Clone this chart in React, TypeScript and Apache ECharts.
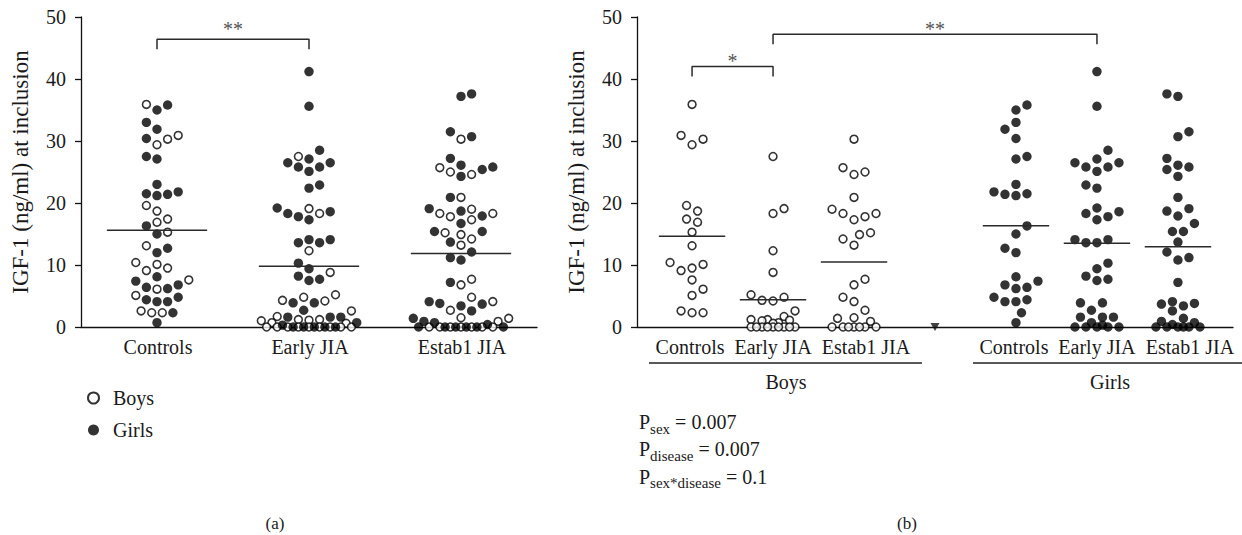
import React, { useEffect, useRef } from "react";
import * as echarts from "echarts";

// ---------- data ----------
const groups = ["Controls", "Early JIA", "Estab1 JIA"];
const sexes = ["Boys", "Girls"];
const yTicks = { min: 0, max: 50, interval: 10 };

const boysControls = [35.9, 30.9, 30.3, 29.4, 19.6, 18.7, 17.4, 16.9, 15.3, 13.1, 10.4, 10.1, 9.5, 9.1, 7.6, 6.1, 5.1, 2.6, 2.3, 2.3];
const boysEarly = [27.5, 19.1, 18.3, 12.3, 8.8, 5.2, 4.8, 4.3, 4.2, 2.6, 1.7, 1.2, 1.2, 1.1, 1.0, 0.7, 0.6, 0, 0, 0, 0, 0, 0, 0, 0, 0];
const boysEstab = [30.3, 25.7, 25.0, 24.6, 20.9, 19.0, 18.3, 18.3, 17.8, 17.3, 15.2, 14.9, 14.2, 13.2, 7.7, 6.8, 4.8, 4.1, 2.7, 1.5, 1.4, 0.9, 0, 0, 0, 0, 0, 0, 0];
const girlsControls = [35.8, 35.0, 33.0, 31.9, 30.4, 27.5, 27.1, 23.0, 21.8, 21.5, 21.4, 21.2, 16.3, 15.0, 12.7, 12.0, 8.1, 7.4, 6.8, 6.4, 6.2, 4.8, 4.4, 4.1, 4.1, 2.3, 0.7];
const girlsEarly = [41.2, 35.6, 28.5, 27.1, 26.5, 26.5, 25.8, 25.8, 25.1, 22.9, 22.4, 19.2, 18.6, 18.3, 17.8, 17.3, 14.1, 14.1, 13.6, 13.6, 10.3, 9.4, 8.2, 7.7, 7.5, 3.9, 3.9, 2.7, 1.6, 1.6, 1.6, 0.7, 0.3, 0, 0, 0, 0, 0];
const girlsEstab = [37.6, 37.2, 31.5, 30.7, 27.2, 26.1, 25.8, 25.4, 24.3, 20.9, 19.1, 18.7, 17.9, 16.7, 15.4, 15.4, 13.7, 12.1, 11.2, 10.8, 7.2, 4.1, 3.8, 3.7, 3.4, 2.6, 1.4, 0.9, 0.7, 0.4, 0, 0, 0, 0, 0, 0];

const boys = [boysControls, boysEarly, boysEstab];
const girls = [girlsControls, girlsEarly, girlsEstab];

// significance brackets: [fromGroup, toGroup, level, drop level, label]
const sigA: [number, number, number, number, string][] = [[0, 1, 46.4, 44.8, "**"]];
// panel b slots: 0..2 boys groups, 3..5 girls groups
const sigB: [number, number, number, number, string][] = [
  [0, 1, 42.0, 40.4, "*"],
  [1, 4, 47.2, 45.6, "**"],
];
const pStats: [string, string][] = [
  ["sex", "0.007"],
  ["disease", "0.007"],
  ["sex*disease", "0.1"],
];
const panelTags = ["(a)", "(b)"];

// ---------- layout constants ----------
const FONT = '"Liberation Serif", "DejaVu Serif", serif';
const INK = "#1a1a1a";
const GA = { left: 81, top: 17, width: 456, height: 310, xMin: 0, xMax: 3 };
const GB = { left: 637, top: 17, width: 596, height: 310, xMin: 0.32, xMax: 7.68 };
const catA = [0.5, 1.5, 2.5];
const catB = [1, 2, 3, 5, 6, 7];
const gapB = 4;
const pxPerY = GA.height / (yTicks.max - yTicks.min);
const pxPerXA = GA.width / (GA.xMax - GA.xMin);
const pxPerXB = GB.width / (GB.xMax - GB.xMin);

function swarm(vals: number[], step: number, D: number, maxK: number): number[] {
  const idx = vals.map((_, i) => i).sort((a, b) => vals[a] - vals[b]);
  const placed: { x: number; y: number }[] = [];
  const out = new Array(vals.length).fill(0);
  const order: number[] = [0];
  for (let k = 1; k <= maxK; k++) order.push(k, -k);
  let flip = 1;
  for (const i of idx) {
    const y = vals[i] * pxPerY;
    let bestX = 0;
    let bestD = -1;
    let chosen: number | null = null;
    for (const k0 of order) {
      const x = k0 * flip * step;
      let m = Infinity;
      for (const p of placed) {
        const d = Math.hypot(p.x - x, p.y - y);
        if (d < m) m = d;
      }
      if (m >= D) {
        chosen = x;
        break;
      }
      if (m > bestD + 0.01) {
        bestD = m;
        bestX = x;
      }
    }
    const x = chosen !== null ? chosen : bestX;
    if (x !== 0) flip = -flip;
    placed.push({ x, y });
    out[i] = x;
  }
  return out;
}

function mean(a: number[]) {
  return a.reduce((s, v) => s + v, 0) / a.length;
}

function buildOption() {
  const boysA: number[][] = [];
  const girlsA: number[][] = [];
  const boysB: number[][] = [];
  const girlsB: number[][] = [];
  const series: any[] = [];
  const lineStyle = { color: "#2a2a2a", width: 1.5 };

  const addLine = (xi: number, pts: number[][]) =>
    series.push({
      type: "line",
      xAxisIndex: xi,
      yAxisIndex: xi,
      data: pts,
      showSymbol: false,
      symbol: "none",
      silent: true,
      lineStyle,
      z: 4,
      animation: false,
    });

  // panel a (combined sexes)
  groups.forEach((g, gi) => {
    const vals = [...boys[gi], ...girls[gi]];
    const off = swarm(vals, 5.3, 10.5, 9);
    vals.forEach((v, i) => {
      const pt = [catA[gi] + off[i] / pxPerXA, v];
      (i < boys[gi].length ? boysA : girlsA).push(pt);
    });
    const m = mean(vals);
    addLine(0, [
      [catA[gi] - 0.33, m],
      [catA[gi] + 0.33, m],
    ]);
  });

  // panel b (split by sex)
  [boys, girls].forEach((set, si) => {
    set.forEach((vals, gi) => {
      const cx = catB[si * 3 + gi];
      const off = swarm(vals, 5.5, 11, 4);
      vals.forEach((v, i) => (si === 0 ? boysB : girlsB).push([cx + off[i] / pxPerXB, v]));
      const m = mean(vals);
      addLine(1, [
        [cx - 0.41, m],
        [cx + 0.41, m],
      ]);
    });
  });

  const openStyle = { color: "#fff", borderColor: "#000", borderWidth: 1.6 };
  const fillStyle = { color: "#000", borderColor: "#000", borderWidth: 0 };
  const pts = (name: string, xi: number, data: number[][], open: boolean) => ({
    name,
    type: "scatter",
    xAxisIndex: xi,
    yAxisIndex: xi,
    data,
    symbol: "circle",
    symbolSize: open ? 7.8 : 9.4,
    itemStyle: open ? openStyle : fillStyle,
    clip: false,
    z: 3,
  });
  series.push(pts(sexes[0], 0, boysA, true));
  series.push(pts(sexes[1], 0, girlsA, false));
  series.push(pts(sexes[0], 1, boysB, true));
  series.push(pts(sexes[1], 1, girlsB, false));

  // brackets
  sigA.forEach(([a, b, lv, dr]) =>
    addLine(0, [
      [catA[a], dr],
      [catA[a], lv],
      [catA[b], lv],
      [catA[b], dr],
    ])
  );
  sigB.forEach(([a, b, lv, dr]) =>
    addLine(1, [
      [catB[a], dr],
      [catB[a], lv],
      [catB[b], lv],
      [catB[b], dr],
    ])
  );

  // separator marker
  series.push({
    type: "scatter",
    xAxisIndex: 1,
    yAxisIndex: 1,
    data: [[gapB, 0]],
    symbol: "triangle",
    symbolRotate: 180,
    symbolSize: [9, 8],
    itemStyle: { color: "#111" },
    silent: true,
    clip: false,
    z: 5,
  });

  const yAxis = (g: any) => ({
    type: "value",
    gridIndex: g,
    min: yTicks.min,
    max: yTicks.max,
    interval: yTicks.interval,
    name: "IGF-1 (ng/ml) at inclusion",
    nameLocation: "middle",
    nameRotate: 90,
    nameGap: 49,
    nameTextStyle: { fontFamily: FONT, fontSize: 23, color: INK },
    axisLine: { show: true, onZero: false, lineStyle: { color: "#111", width: 1.3 } },
    axisTick: { show: true, inside: false, length: 6, lineStyle: { color: "#111", width: 1.3 } },
    axisLabel: { fontFamily: FONT, fontSize: 20, color: INK, margin: 15 },
    splitLine: { show: false },
  });
  const xAxis = (g: any, G: any) => ({
    type: "value",
    gridIndex: g,
    min: G.xMin,
    max: G.xMax,
    axisLine: { show: true, onZero: false, lineStyle: { color: "#111", width: 1.3 } },
    axisTick: { show: false },
    axisLabel: { show: false },
    splitLine: { show: false },
  });

  return {
    animation: false,
    backgroundColor: "#fff",
    grid: [
      { left: GA.left, top: GA.top, width: GA.width, height: GA.height },
      { left: GB.left, top: GB.top, width: GB.width, height: GB.height },
    ],
    xAxis: [xAxis(0, GA), xAxis(1, GB)],
    yAxis: [yAxis(0), yAxis(1)],
    legend: {
      data: sexes,
      orient: "vertical",
      left: 82,
      top: 383,
      itemWidth: 11,
      itemHeight: 11,
      itemGap: 12,
      selectedMode: false,
      textStyle: { fontFamily: FONT, fontSize: 20, color: INK, padding: [0, 0, 0, 9] },
    },
    series,
  };
}

function buildGraphic(chart: echarts.ECharts) {
  const toPx = (gi: number, x: number, y: number) => chart.convertToPixel({ gridIndex: gi }, [x, y]) as number[];
  const txt = (x: number, y: number, text: string, size: number, fill = INK, align = "center") => ({
    type: "text",
    x,
    y,
    silent: true,
    z: 10,
    style: { text, fontFamily: FONT, fontSize: size, fill, align, verticalAlign: "middle" },
  });
  const graphic: any[] = [];

  // category labels
  groups.forEach((g, gi) => {
    const [px, py] = toPx(0, catA[gi], 0);
    graphic.push(txt(px + 1, py + 20, g, 20));
  });
  const labOffB = [-2, 0, 12];
  catB.forEach((x, i) => {
    const [px, py] = toPx(1, x, 0);
    graphic.push(txt(px + labOffB[i % 3], py + 19.5, groups[i % 3], 20));
  });

  // significance stars
  sigA.forEach(([a, b, lv, , lab]) => {
    const [px, py] = toPx(0, (catA[a] + catA[b]) / 2, lv);
    graphic.push(txt(px, py - 10.6, lab, 20, "#555"));
  });
  sigB.forEach(([a, b, lv, , lab]) => {
    const [px, py] = toPx(1, (catB[a] + catB[b]) / 2, lv);
    graphic.push(txt(px, py - 5.6, lab, 20, "#555"));
  });

  // group underlines and captions
  graphic.push(
    { type: "line", silent: true, shape: { x1: 649, y1: 363, x2: 922, y2: 363 }, style: { stroke: "#222", lineWidth: 1.5 } },
    { type: "line", silent: true, shape: { x1: 973, y1: 363, x2: 1242, y2: 363 }, style: { stroke: "#222", lineWidth: 1.5 } },
    txt(786, 382, sexes[0], 20),
    txt(1110, 382, sexes[1], 20),
    txt(275, 523, panelTags[0], 17),
    txt(907, 523, panelTags[1], 17)
  );

  pStats.forEach(([sub, val], i) => {
    graphic.push({
      type: "text",
      x: 639,
      y: 422 + i * 27.4,
      silent: true,
      style: {
        text: `{p|P}{s|${sub}}{t| = ${val}}`,
        align: "left",
        verticalAlign: "middle",
        fontFamily: FONT,
        fill: INK,
        rich: {
          p: { fontFamily: FONT, fontSize: 20, lineHeight: 28, fill: INK, verticalAlign: "middle" },
          s: { fontFamily: FONT, fontSize: 15, lineHeight: 15, fill: INK, verticalAlign: "bottom" },
          t: { fontFamily: FONT, fontSize: 20, lineHeight: 28, fill: INK, verticalAlign: "middle" },
        },
      },
    });
  });
  return graphic;
}

export default function App() {
  const ref = useRef<HTMLDivElement>(null);
  useEffect(() => {
    document.body.style.margin = "0";
    if (!ref.current) return;
    const chart = echarts.init(ref.current, undefined, { renderer: "svg" });
    chart.setOption(buildOption() as any);
    chart.setOption({ graphic: buildGraphic(chart) } as any);
    return () => chart.dispose();
  }, []);
  return <div ref={ref} style={{ width: 1242, height: 535 }} />;
}
